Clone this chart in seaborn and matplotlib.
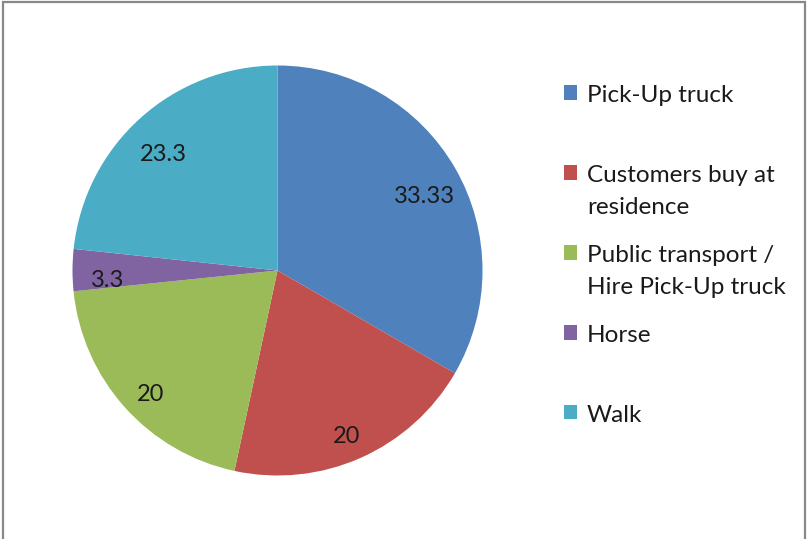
import matplotlib
matplotlib.use("Agg")
import matplotlib.pyplot as plt
from matplotlib.patches import Rectangle
import seaborn as sns

# data
categories = ["Pick-Up truck", "Customers buy at\nresidence",
              "Public transport /\nHire Pick-Up truck", "Horse", "Walk"]
values = [33.33, 20, 20, 3.3, 23.3]
value_labels = ["33.33", "20", "20", "3.3", "23.3"]
colors = ["#4F81BD", "#C0504D", "#9BBB59", "#8064A2", "#4BACC6"]

sns.set_theme(style="white")
plt.rcParams["font.family"] = ["Lato", "DejaVu Sans"]

fig = plt.figure(figsize=(8.07, 5.39), dpi=100)
W, H = 807, 539

# pie axes: centre about (277, 270) px, radius 205 px
ax = fig.add_axes([(277.5 - 205) / W, (H - 270.5 - 205) / H, 410 / W, 410 / H])
wedges, texts = ax.pie(values, labels=value_labels, colors=colors,
                       startangle=90, counterclock=False, labeldistance=0.83,
                       wedgeprops=dict(linewidth=0),
                       textprops=dict(fontsize=17, color="#1a1a1a",
                                      ha="center", va="top"))
ax.set_xlim(-1, 1)
ax.set_ylim(-1, 1)
ax.set_aspect("equal")

# legend: pad single-line labels so every entry takes two lines
leg_labels = [c if "\n" in c else c + "\n" for c in categories]
leg = fig.legend(wedges, leg_labels, loc="upper left",
                 bbox_to_anchor=(564 / W, 1 - 85 / H), frameon=False,
                 fontsize=17.5, handlelength=0.55, handleheight=0.55,
                 handletextpad=0.4, labelspacing=1.1, borderpad=0,
                 borderaxespad=0)
for t in leg.get_texts():
    t.set_color("#1a1a1a")
    t.set_linespacing(1.66)
for col in leg._legend_handle_box.get_children():
    for row in col.get_children():
        row.align = "top"

# grey chart border (bottom edge falls outside the image)
fig.patches.append(Rectangle((3 / W, -0.05), 802 / W, 1 - 2 / H + 0.05,
                             transform=fig.transFigure, fill=False,
                             edgecolor="#888888", linewidth=1.6))

fig.savefig("out.png", dpi=100)
